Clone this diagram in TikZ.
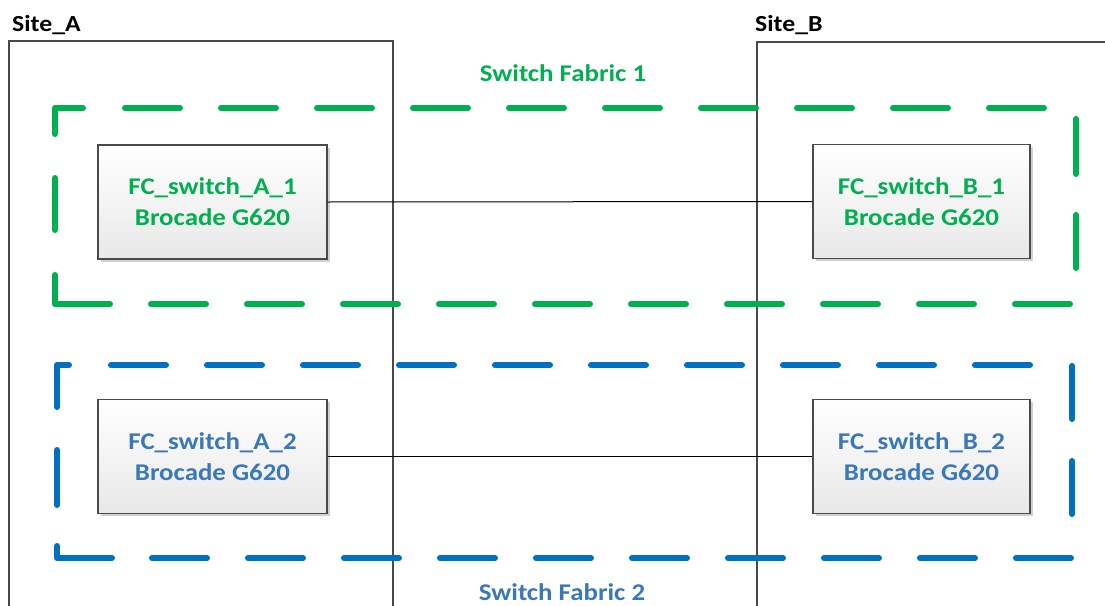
\documentclass[tikz,border=0pt]{standalone}
\usepackage{fontspec}
\setmainfont{Carlito}[FakeStretch=1.12]
\usetikzlibrary{shadows}
\definecolor{fgreen}{HTML}{00B050}
\definecolor{fblue}{HTML}{0070C0}
\definecolor{tblue}{HTML}{3A78B8}
\definecolor{sitegray}{HTML}{4A4A4A}
\begin{document}
\begin{tikzpicture}[x=1pt,y=-1pt,
  sitebox/.style={draw=sitegray, line width=1.3pt},
  sitelabel/.style={anchor=west, inner sep=0pt, font=\fontsize{23}{26}\selectfont\bfseries, text=black},
  switchbox/.style={draw=sitegray, line width=1.3pt, minimum height=114pt, inner sep=0pt,
    top color=white, bottom color=black!9, align=center,
    font=\fontsize{24}{31}\selectfont\bfseries,
    drop shadow={shadow xshift=2.5pt, shadow yshift=-2.5pt, fill=black, opacity=0.18}},
  fabline/.style={line width=6pt, line cap=round, line join=round},
  fabdash/.style={fabline, dash pattern=on 55pt off 41pt},
  fablabel/.style={inner sep=0pt, font=\fontsize{24}{28}\selectfont\bfseries},
  link/.style={draw=black, line width=1pt}]
\useasboundingbox (0,0) rectangle (1105,605);
\fill[white] (0,0) rectangle (1105,605);

% sites
\draw[sitebox] (9,606) -- (9,41) -- (393,41) -- (393,606);
\draw[sitebox] (757,606) -- (757,42) -- (1106,42);
\node[sitelabel] (siteA) at (12,25) {Site\_A};
\node[sitelabel] (siteB) at (755,25) {Site\_B};

% switch fabric 1 (green)
\draw[fabline, fgreen] (55,134) -- (55,108) -- (83,108);
\draw[fabdash, fgreen] (125,108) -- (1044,108);
\draw[fabdash, fgreen] (1076,119) -- (1076,268);
\draw[fabdash, fgreen] (151,304) -- (1070,304);
\draw[fabline, fgreen] (55,275) -- (55,304) -- (110,304);
\draw[fabline, fgreen] (55,178) -- (55,230);
% switch fabric 2 (blue)
\draw[fabline, fblue] (57,407) -- (57,365) -- (69,365);
\draw[fabdash, fblue] (111,365) -- (1030,365);
\draw[fabline, fblue, dash pattern=on 53pt off 42pt] (1072,366) -- (1072,515);
\draw[fabdash, fblue] (152,558) -- (1072,558);
\draw[fabline, fblue] (112,558) -- (57,558) -- (57,546);
\draw[fabline, fblue] (57,450) -- (57,505);

\node[fablabel, text=fgreen] (fab1) at (563,73) {Switch Fabric 1};
\node[fablabel, text=tblue] (fab2) at (562,592) {Switch Fabric 2};

% switches
\node[switchbox, minimum width=229pt, text=fgreen] (a1) at (212.5,202) {FC\_switch\_A\_1\\Brocade G620};
\node[switchbox, minimum width=217pt, text=fgreen] (b1) at (921.5,201.5) {FC\_switch\_B\_1\\Brocade G620};
\node[switchbox, minimum width=229pt, text=tblue] (a2) at (212.5,456.5) {FC\_switch\_A\_2\\Brocade G620};
\node[switchbox, minimum width=217pt, text=tblue] (b2) at (921.5,456.5) {FC\_switch\_B\_2\\Brocade G620};

% links
\draw[link] (a1.east) -- (b1.west);
\draw[link] (a2.east) -- (b2.west);
\end{tikzpicture}
\end{document}
